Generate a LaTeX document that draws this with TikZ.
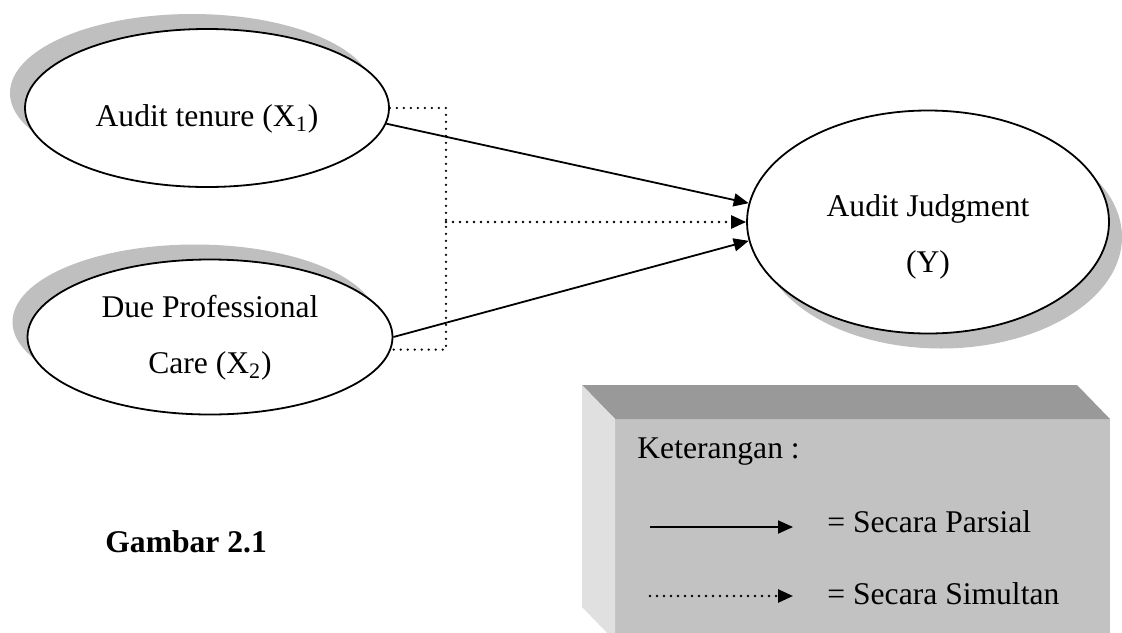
\documentclass[tikz,border=0pt]{standalone}
\usepackage{fontspec}
\setmainfont{Liberation Serif}
\usepackage{tikz}
\usetikzlibrary{
    shapes.geometric,
    arrows.meta,
    shadows, calc
}
\definecolor{shadowgray}{HTML}{BFBFBF}
\definecolor{boxtop}{HTML}{999999}
\definecolor{boxfront}{HTML}{C2C2C2}
\definecolor{boxside}{HTML}{E0E0E0}
\tikzset{
    var/.style={ellipse, draw, line width=0.9pt, fill=white},
    lshadow/.style={drop shadow={shadow xshift=-7.5pt, shadow yshift=7.5pt, fill=shadowgray, opacity=1}},
    rshadow/.style={drop shadow={shadow xshift=6.5pt, shadow yshift=-7.5pt, fill=shadowgray, opacity=1}},
    lbl/.style={align=center, inner sep=0pt, font=\fontsize{15.8}{28}\selectfont},
    tip/.style={-{Triangle[length=7.5pt, width=6.5pt]}},
    parsial/.style={line width=0.9pt, tip},
    simultan/.style={line width=1.3pt, line cap=round, dash pattern=on 0pt off 3.5pt}
}
\begin{document}
\begin{tikzpicture}[x=0.5pt, y=-0.5pt]
        \useasboundingbox (0,0) rectangle (1122,632);
        \clip (0,0) rectangle (1122,632);
        \node[var, lshadow, minimum width=182pt, minimum height=79pt] (x1) at (207,108) {};
        \node[var, lshadow, minimum width=182.5pt, minimum height=77.5pt] (x2) at (210,337) {};
        \node[var, rshadow, minimum width=181pt, minimum height=111.5pt] (y) at (928,222) {};
        \node[lbl] (x1lbl) at ($(x1)+(0,11)$) {Audit tenure (X\textsubscript{1})};
        \node[lbl] (x2lbl) at ($(x2)+(0,1)$) {Due Professional\\Care (X\textsubscript{2})};
        \node[lbl] (ylbl) at ($(y)+(0,15)$) {Audit Judgment\\(Y)};
        \coordinate (junc) at (446,222);
        \draw[parsial] (x1.-5) -- (y.174);
        \draw[parsial] (x2.east) -- (y.186);
        \draw[simultan] (x1.east) -| (junc) |- (x2.-4);
        \draw[simultan, tip] (junc) -- (y.west);
        \node[lbl, anchor=west, font=\fontsize{15.8}{28}\selectfont\bfseries] (fig) at (105,542) {Gambar 2.1};
        \fill[boxfront] (615,419) rectangle (1110,641);
        \fill[boxtop] (582,385) -- (1077,385) -- (1110,419) -- (615,419) -- cycle;
        \fill[boxside] (582,385) -- (615,419) -- (615,641) -- (582,607) -- cycle;
        \node[lbl, anchor=west] (ket) at (637,452) {Keterangan :};
        \node[lbl, anchor=west] (psl) at (827,522) {= Secara Parsial};
        \node[lbl, anchor=west] (sml) at (827,594) {= Secara Simultan};
        \coordinate (pa) at (650,527);
        \coordinate (pb) at (793,527);
        \coordinate (sa) at (650,596);
        \coordinate (sb) at (793,596);
        \draw[parsial] (pa) -- (pb);
        \draw[simultan, tip] (sa) -- (sb);
\end{tikzpicture}
\end{document}
